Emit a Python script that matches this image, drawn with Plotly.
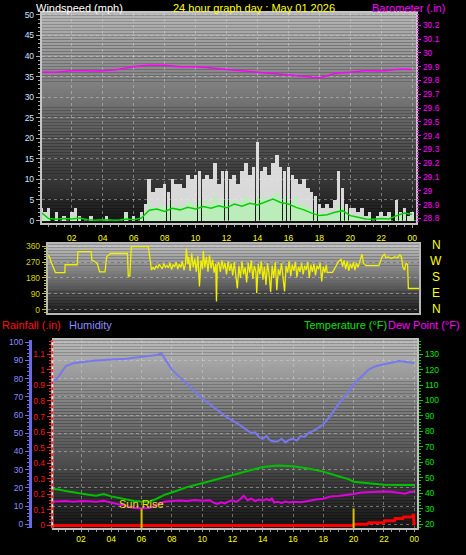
import plotly.graph_objects as go

# ---------------- data ----------------
hour_ticks = [2, 4, 6, 8, 10, 12, 14, 16, 18, 20, 22, 24]
hour_labels = ["02", "04", "06", "08", "10", "12", "14", "16", "18", "20", "22", "00"]

wind_time = [i * 0.25 for i in range(97)]
wind_gust = [3, 2, 3, 0, 2, 0, 1, 0, 2, 3, 1, 0, 0, 1, 0, 0, 0, 1, 0, 0, 0, 0, 2, 0,
             1, 0, 2, 4, 10, 7, 8, 8, 9, 7, 10, 9, 9, 8, 11, 10, 11, 12, 10, 11,
             10, 14, 9, 12, 12, 10, 11, 9, 12, 14, 11, 13, 19, 12, 13, 11, 14, 16, 13, 12,
             13, 11, 10, 9, 10, 8, 7, 6, 4, 3, 4, 3, 5, 12, 8, 4, 3, 3, 2, 3,
             1, 2, 0, 1, 2, 1, 2, 0, 5, 2, 3, 1, 2]
wind_speed = [1, 1, 1, 0, 1, 0, 0, 0, 1, 1, 0, 0, 0, 0, 0, 0, 0, 0, 0, 0, 0, 0, 1, 0,
              0, 0, 1, 2, 4, 3, 3, 4, 3, 4, 4, 3, 4, 3, 5, 4, 4, 5, 3, 5,
              4, 6, 4, 5, 5, 4, 5, 3, 5, 6, 4, 5, 6, 5, 6, 4, 6, 7, 5, 6,
              5, 4, 6, 4, 4, 3, 3, 2, 2, 1, 2, 1, 2, 4, 3, 2, 1, 1, 1, 1,
              0, 1, 0, 0, 1, 0, 1, 0, 2, 1, 1, 0, 1]
avg_time = [i * 0.5 for i in range(49)]
wind_avg = [2, 0.5, 0.3, 0.5, 0.4, 0.6, 0.2, 0.1, 0.2, 0.1, 0.1, 0.4, 0.2, 0.6,
            2.5, 2.8, 2.2, 3.0, 2.6, 3.2, 2.8, 3.4, 3.0, 3.6, 3.1, 4.0, 3.5, 4.2,
            3.8, 4.5, 5.2, 4.4, 4.0, 3.2, 2.6, 1.8, 1.2, 1.4, 2.0, 2.4, 1.2, 0.8,
            0.4, 0.3, 0.5, 0.4, 1.2, 1.8, 1.5]
baro_time = list(range(25))
baro_val = [29.86, 29.86, 29.87, 29.87, 29.87, 29.88, 29.90, 29.91, 29.91, 29.90,
            29.90, 29.89, 29.88, 29.87, 29.86, 29.85, 29.84, 29.83, 29.82, 29.85,
            29.86, 29.87, 29.87, 29.88, 29.88]
wind_ticks = [0, 5, 10, 15, 20, 25, 30, 35, 40, 45, 50]
baro_ticks = [28.8, 28.9, 29.0, 29.1, 29.2, 29.3, 29.4, 29.5, 29.6, 29.7, 29.8, 29.9, 30.0, 30.1, 30.2]
baro_labels = ["28.8", "28.9", "29", "29.1", "29.2", "29.3", "29.4", "29.5", "29.6", "29.7",
               "29.8", "29.9", "30", "30.1", "30.2"]

dir_time = [0.0, 0.1, 0.25, 0.4, 0.5, 1.1, 1.12, 1.9, 1.95, 2.8, 2.85, 3.0, 3.2, 3.35, 3.7, 3.8,
            4.05, 5.15, 5.2, 5.3, 5.4, 6.5, 6.6, 6.7,
            6.8, 6.9, 7.0, 7.1, 7.2, 7.3, 7.4, 7.5, 7.6, 7.7, 7.8, 7.9, 8.0, 8.1, 8.2, 8.3, 8.4,
            8.5, 8.6, 8.7, 8.8, 8.9,
            8.95, 9.05, 9.1, 9.2, 9.3, 9.4, 9.5, 9.6, 9.7, 9.8, 9.85, 9.9, 10.0, 10.05, 10.15,
            10.25, 10.35, 10.45, 10.55, 10.65, 10.75, 10.85, 10.9, 10.95,
            11.05, 11.15, 11.25, 11.35, 11.45, 11.55, 11.65, 11.75, 11.85, 11.95, 12.05, 12.15,
            12.25, 12.35, 12.45, 12.55, 12.65, 12.75, 12.85, 12.95,
            13.05, 13.15, 13.25, 13.35, 13.45, 13.5, 13.6, 13.7, 13.8, 13.9, 14.0, 14.1, 14.2,
            14.3, 14.4, 14.5, 14.6, 14.7, 14.8, 14.9,
            15.0, 15.1, 15.2, 15.3, 15.4, 15.5, 15.6, 15.7, 15.8, 15.9, 16.0, 16.1, 16.2, 16.3,
            16.4, 16.5, 16.6, 16.7, 16.8, 16.9,
            17.0, 17.1, 17.2, 17.3, 17.4, 17.5, 17.6, 17.7, 17.8, 17.9, 18.0, 18.05, 18.4, 18.6,
            18.8, 18.95,
            19.05, 19.15, 19.25, 19.35, 19.45, 19.55, 19.65, 19.75, 19.85, 19.95, 20.05, 20.15,
            20.3, 20.4, 20.55,
            21.4, 21.6, 21.75, 21.85, 22.0, 22.2, 22.4, 22.6, 22.75, 22.85, 22.95, 23.05, 23.15,
            23.25, 23.3, 24.0]
dir_deg = [310, 300, 262, 225, 210, 210, 255, 255, 330, 330, 282, 275, 262, 215, 215, 300,
           319, 319, 190, 190, 358, 358, 300, 225,
           240, 228, 250, 235, 258, 245, 232, 262, 240, 250, 238, 265, 228, 255, 245, 270, 230,
           258, 240, 275, 225, 262,
           347, 260, 300, 220, 320, 240, 290, 215, 305, 131, 260, 280, 230, 335, 240, 300, 215,
           310, 235, 285, 210, 260, 47, 250,
           270, 215, 280, 230, 265, 200, 275, 220, 260, 195, 270, 205, 120, 250, 180, 275, 200,
           240, 155, 265,
           210, 280, 175, 250, 215, 94, 260, 200, 275, 170, 245, 140, 265, 200, 100, 250, 180,
           270, 110, 230,
           195, 265, 175, 103, 250, 210, 275, 190, 255, 220, 270, 185, 245, 215, 265, 200, 250,
           225, 270, 180,
           255, 215, 260, 195, 250, 230, 265, 160, 245, 210, 255, 212, 212, 245, 275, 285,
           245, 280, 230, 275, 220, 260, 235, 270, 225, 265, 240, 270, 315, 265, 250,
           250, 300, 315, 295, 300, 290, 300, 295, 312, 300, 240, 225, 265, 255, 120, 120]
dir_ticks = [0, 90, 180, 270, 360]
compass_labels = ["N", "W", "S", "E", "N"]

hum_time = [0, 0.5, 1, 1.5, 2, 3, 4, 5, 6, 7, 7.3, 7.6, 8, 8.5, 9, 9.5, 10, 10.5, 11, 11.5,
            12, 12.5, 13, 13.25, 13.5, 13.75, 14, 14.25, 14.5, 14.75, 15, 15.25, 15.5, 15.75,
            16, 16.25, 16.5, 16.75, 17, 17.5, 18, 18.5, 19, 19.5, 20, 20.5, 21, 21.5, 22, 23, 24]
hum_val = [76.5, 81, 87, 88.5, 89, 90, 90.5, 91, 92, 93, 94, 90, 85, 81, 77, 73, 69, 66, 62.5,
           59.5, 57, 54.5, 51.5, 50, 50.5, 48, 47, 48.5, 46, 45.5, 45.6, 47, 45, 46.5, 47, 46,
           48.5, 48, 50, 52, 55, 60, 66, 71, 77, 81, 85, 87, 88, 89.7, 88.6]
temp_time = [0, 0.5, 1, 1.5, 2, 2.5, 3, 3.5, 4, 4.5, 5, 5.5, 6, 6.5, 7, 7.5, 8, 9, 10, 11, 12,
             13, 14, 15, 16, 17, 18, 19, 19.7, 20, 21, 22, 23, 24]
temp_val = [43, 42.5, 41.5, 40.5, 40, 39, 38.5, 39.5, 38, 37, 35.8, 35, 34.7, 34.6, 36.5, 39,
            40.5, 44, 46.5, 49, 51.5, 54.5, 57, 58, 57.5, 56, 54, 51, 49, 47.5, 46.5, 45.6,
            45.3, 45.3]
dew_time = [0, 0.5, 1, 1.5, 2, 2.5, 3, 3.5, 4, 4.5, 5, 5.5, 6, 6.5, 7, 7.5, 8, 8.5, 9, 9.5,
            10, 10.5, 10.75, 11, 11.25, 11.5, 11.75, 12, 12.25, 12.5, 12.75, 13, 13.25, 13.5,
            13.75, 14, 14.25, 14.5, 14.6, 14.75, 15, 15.25, 15.5, 15.75, 16, 16.5, 17, 17.5,
            18, 18.5, 19, 19.5, 20, 20.5, 21, 21.5, 22, 22.5, 23, 23.4, 23.7, 24]
dew_val = [34.5, 34.8, 35, 34.6, 35, 34.8, 34.6, 35.2, 34, 33, 31.5, 30.5, 30.3, 30.5, 32.5,
           34.5, 35, 35.3, 35, 35.6, 35.2, 35.5, 34, 33.2, 34.2, 33.5, 34.8, 35.5, 34.5, 36,
           38.5, 35.5, 36.5, 35, 36, 35.2, 36.2, 35.5, 37, 34, 34.5, 33.8, 34.6, 34, 34.5,
           34.2, 35, 36, 36.5, 38, 38.3, 38.8, 39.5, 40.5, 40.8, 41, 41.2, 41, 40.5, 39.7,
           40.8, 41]
rain_time = [0, 20.0, 20.02, 20.9, 21.0, 22.0, 22.05, 22.7, 22.75, 23.25, 23.3, 23.9, 23.95, 24.0]
rain_val = [0, 0, 0.008, 0.008, 0.017, 0.017, 0.03, 0.03, 0.045, 0.045, 0.055, 0.055, 0.075, 0.0]
rain_ticks = [0, 0.1, 0.2, 0.3, 0.4, 0.5, 0.6, 0.7, 0.8, 0.9, 1.0, 1.1]
rain_labels = ["0", "0.1", "0.2", "0.3", "0.4", "0.5", "0.6", "0.7", "0.8", "0.9", "1", "1.1"]
hum_ticks = [0, 10, 20, 30, 40, 50, 60, 70, 80, 90, 100]
temp_ticks = [20, 30, 40, 50, 60, 70, 80, 90, 100, 110, 120, 130]
sun_time = [6.0, 20.0]
sun_label = ["Sun Rise", ""]

# ---------------- layout helpers ----------------
W, H = 466, 555
FONT = "Liberation Sans, Arial, sans-serif"


def fx(px):
    return px / W


def fy(py):
    return 1 - py / H


GRID = "rgba(215,215,215,0.45)"

fig = go.Figure()

# ---- top panel ----
fig.add_trace(go.Bar(x=wind_time, y=wind_gust, width=0.23,
                     marker=dict(color="rgba(236,236,236,0.9)", line=dict(width=0)),
                     xaxis="x", yaxis="y", hoverinfo="skip"))
fig.add_trace(go.Bar(x=wind_time, y=wind_speed, width=0.23,
                     marker=dict(color="rgba(185,238,185,0.95)", line=dict(width=0)),
                     xaxis="x", yaxis="y", hoverinfo="skip"))
fig.add_trace(go.Scatter(x=avg_time, y=wind_avg, mode="lines",
                         line=dict(color="#00d000", width=1.5),
                         xaxis="x", yaxis="y", hoverinfo="skip"))
fig.add_trace(go.Scatter(x=baro_time, y=baro_val, mode="lines",
                         line=dict(color="#ff00ff", width=1.5, shape="spline"),
                         xaxis="x", yaxis="y2", hoverinfo="skip"))

# ---- middle panel ----
fig.add_trace(go.Scatter(x=dir_time, y=dir_deg, mode="lines",
                         line=dict(color="#f0f000", width=1.3),
                         xaxis="x2", yaxis="y3", hoverinfo="skip"))

# ---- bottom panel ----
fig.add_trace(go.Scatter(x=hum_time, y=hum_val, mode="lines",
                         line=dict(color="#7878ee", width=2),
                         xaxis="x3", yaxis="y5", hoverinfo="skip"))
fig.add_trace(go.Scatter(x=temp_time, y=temp_val, mode="lines",
                         line=dict(color="#00c000", width=2),
                         xaxis="x3", yaxis="y6", hoverinfo="skip"))
fig.add_trace(go.Scatter(x=dew_time, y=dew_val, mode="lines",
                         line=dict(color="#e000e0", width=2),
                         xaxis="x3", yaxis="y6", hoverinfo="skip"))
fig.add_trace(go.Scatter(x=rain_time, y=rain_val, mode="lines",
                         line=dict(color="#ff0000", width=3),
                         xaxis="x3", yaxis="y4", hoverinfo="skip"))

# ---- background gradients ----
shapes = []


def gradient(x0, x1, y0, y1, c_top, c_bot, step=3):
    y = y0
    while y < y1:
        yb = min(y + step, y1)
        t = ((y + yb) / 2 - y0) / (y1 - y0)
        c = int(round(c_top + (c_bot - c_top) * t))
        shapes.append(dict(type="rect", xref="paper", yref="paper", layer="below",
                           x0=fx(x0), x1=fx(x1), y0=fy(yb), y1=fy(y),
                           line=dict(width=0), fillcolor=f"rgb({c},{c},{c})"))
        y = yb


gradient(42, 418, 10, 222, 182, 22)
gradient(48, 421, 244, 313, 192, 28)
gradient(52, 419, 341, 531, 184, 20)

# rain axis dashed line
shapes.append(dict(type="line", xref="paper", yref="paper", x0=fx(52.5), x1=fx(52.5),
                   y0=fy(531), y1=fy(341), line=dict(color="#e8e8e8", width=2)))
shapes.append(dict(type="line", xref="paper", yref="paper", x0=fx(52.5), x1=fx(52.5),
                   y0=fy(531), y1=fy(341), line=dict(color="#ff2020", width=2, dash="dot")))
# sun rise / set markers
for t in sun_time:
    shapes.append(dict(type="line", xref="x3", yref="paper", x0=t, x1=t,
                       y0=fy(531), y1=fy(511), line=dict(color="#d8c000", width=2)))

annotations = []


def label(text, x, y, color, size=11, xanchor="left"):
    annotations.append(dict(text=text, x=x, y=y, xref="paper", yref="paper",
                            xanchor=xanchor, yanchor="middle", showarrow=False,
                            font=dict(family=FONT, size=size, color=color)))


label("Windspeed (mph)", fx(34), fy(5), "#ffffff")
label("24 hour graph day : May 01 2026", fx(172), fy(5), "#ffff00")
label("Barometer (.in)", fx(372), fy(5), "#ff00ff")
label("Rainfall (.in)", fx(0), fy(326), "#ff1010")
label("Humidity", fx(67), fy(326), "#8c8cff")
label("Temperature (°F)", fx(391), fy(326), "#00e600", xanchor="right")
label("Dew Point (°F)", fx(464), fy(326), "#ff00ff", xanchor="right")
for i, txt in enumerate(compass_labels):
    label(txt, fx(438), fy(245 + i * 16.2), "#ffff00", size=12, xanchor="center")
for t, txt in zip(sun_time, sun_label):
    if txt:
        annotations.append(dict(text=txt, x=t, y=fy(506), xref="x3", yref="paper",
                                xanchor="center", yanchor="middle", showarrow=False,
                                font=dict(family=FONT, size=11, color="#e8e000")))

TICKF = 8.5

fig.update_layout(
    width=W, height=H, margin=dict(l=0, r=0, t=0, b=0),
    paper_bgcolor="#000000", plot_bgcolor="rgba(0,0,0,0)",
    showlegend=False, hovermode=False, barmode="overlay", bargap=0,
    font=dict(family=FONT, size=TICKF, color="#ffffff"),
    shapes=shapes, annotations=annotations,
    xaxis=dict(domain=[fx(42), fx(418)], range=[0.06, 24.26], anchor="y",
               tickvals=hour_ticks, ticktext=hour_labels,
               tickfont=dict(color="#ffff00", size=TICKF),
               ticks="outside", ticklen=3, tickcolor="#9a9a9a", ticklabelstandoff=3,
               minor=dict(dtick=0.5, ticklen=2, tickcolor="#9a9a9a", ticks="outside"),
               showgrid=True, gridcolor=GRID, griddash="dot",
               showline=True, linecolor="#c4c4c4", linewidth=2, mirror=True,
               zeroline=False, fixedrange=True),
    yaxis=dict(domain=[fy(222), fy(10)], range=[-0.5, 50.5], anchor="x",
               tickvals=wind_ticks, tickfont=dict(color="#cfe4ff", size=TICKF),
               ticks="outside", ticklen=4, tickcolor="#a8a8a8",
               minor=dict(dtick=1, ticklen=2, tickcolor="#a8a8a8", ticks="outside"),
               showgrid=True, gridcolor=GRID, griddash="dot",
               showline=True, linecolor="#c4c4c4", linewidth=2, mirror=True,
               zeroline=False, fixedrange=True),
    yaxis2=dict(overlaying="y", side="right", anchor="x", range=[28.77, 30.29],
                tickvals=baro_ticks, ticktext=baro_labels,
                tickfont=dict(color="#ff00ff", size=TICKF),
                ticks="outside", ticklen=4, tickcolor="#ff00ff",
                minor=dict(dtick=0.02, ticklen=2, tickcolor="#ff00ff", ticks="outside"),
                showgrid=False, zeroline=False, fixedrange=True),
    xaxis2=dict(domain=[fx(48), fx(421)], range=[0, 24], anchor="y3",
                showticklabels=False, ticks="", showgrid=False,
                showline=True, linecolor="#b8b8b8", linewidth=2, mirror=True,
                zeroline=False, fixedrange=True),
    yaxis3=dict(domain=[fy(313), fy(244)], range=[-17, 371], anchor="x2",
                tickvals=dir_ticks, tickfont=dict(color="#d4d400", size=TICKF),
                ticks="outside", ticklen=4, tickcolor="#c8c800",
                minor=dict(dtick=15, ticklen=2, tickcolor="#c8c800", ticks="outside"),
                showgrid=True, gridcolor=GRID, griddash="dot",
                showline=True, linecolor="#b8b8b8", linewidth=2, mirror=True,
                zeroline=False, fixedrange=True),
    xaxis3=dict(domain=[fx(52), fx(419)], range=[0.07, 24.2], anchor="y4",
                tickvals=hour_ticks, ticktext=hour_labels,
                tickfont=dict(color="#ffff00", size=TICKF),
                ticks="outside", ticklen=2, tickcolor="#9a9a9a",
                minor=dict(dtick=0.5, ticklen=2, tickcolor="#9a9a9a", ticks="outside"),
                showgrid=True, gridcolor=GRID, griddash="dot",
                showline=True, linecolor="#c0c0c0", linewidth=2, mirror=True,
                zeroline=False, fixedrange=True),
    yaxis4=dict(domain=[fy(531), fy(341)], range=[-0.018, 1.19], anchor="x3", side="left",
                tickvals=rain_ticks, ticktext=rain_labels,
                tickfont=dict(color="#ff1010", size=TICKF),
                ticks="outside", ticklen=4, tickcolor="#ff2020",
                minor=dict(dtick=0.02, ticklen=2, tickcolor="#ff2020", ticks="outside"),
                showgrid=False, showline=False, zeroline=False, fixedrange=True),
    yaxis5=dict(overlaying="y4", anchor="free", position=fx(30), side="left",
                range=[-2.2, 101.1], tickvals=hum_ticks,
                tickfont=dict(color="#8c8cff", size=TICKF),
                ticks="outside", ticklen=4, tickcolor="#7070e0",
                minor=dict(dtick=2, ticklen=2, tickcolor="#7070e0", ticks="outside"),
                showgrid=True, gridcolor=GRID, griddash="dot",
                showline=True, linecolor="#6a6ae6", linewidth=3,
                zeroline=False, fixedrange=True),
    yaxis6=dict(overlaying="y4", anchor="x3", side="right",
                range=[17.4, 138.9], tickvals=temp_ticks,
                tickfont=dict(color="#00e600", size=TICKF),
                ticks="outside", ticklen=4, tickcolor="#00d000",
                minor=dict(dtick=2, ticklen=2, tickcolor="#00d000", ticks="outside"),
                showgrid=False, showline=True, linecolor="#c0c0c0", linewidth=2,
                zeroline=False, fixedrange=True),
)

fig.write_html("out.html", config={"displayModeBar": False, "staticPlot": True},
               post_script="document.body.style.margin='0px';document.body.style.padding='0px';")
